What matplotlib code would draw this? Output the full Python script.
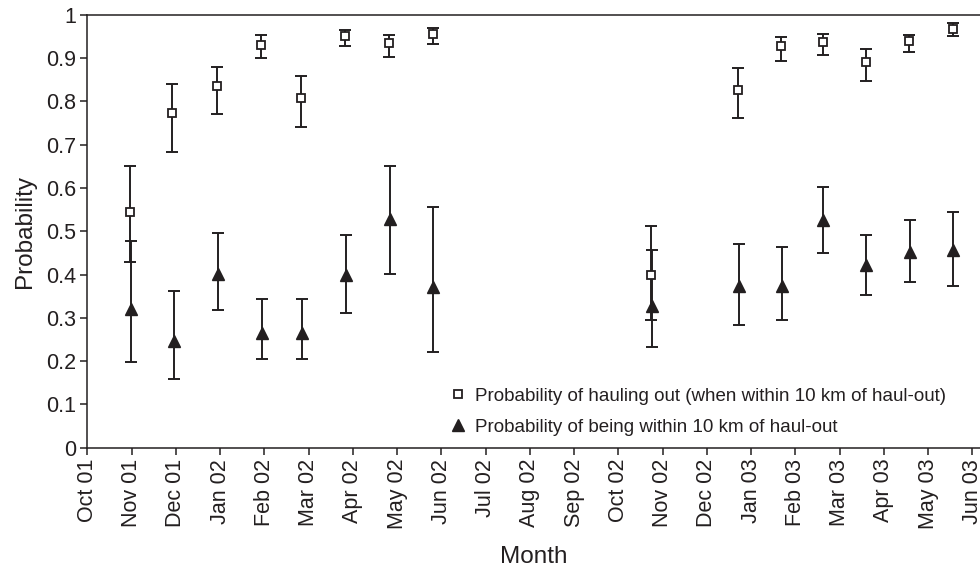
import matplotlib
matplotlib.use("Agg")
import matplotlib.pyplot as plt
import numpy as np

plt.rcParams["font.family"] = ["Liberation Sans", "DejaVu Sans"]

INK = "#231f20"

month_labels = ["Oct 01", "Nov 01", "Dec 01", "Jan 02", "Feb 02", "Mar 02", "Apr 02",
                "May 02", "Jun 02", "Jul 02", "Aug 02", "Sep 02", "Oct 02", "Nov 02",
                "Dec 02", "Jan 03", "Feb 03", "Mar 03", "Apr 03", "May 03", "Jun 03"]

# sampling positions in months since Oct 01
haul_x = [0.97, 1.92, 2.94, 3.92, 4.83, 5.82, 6.81, 7.80,
          12.73, 14.70, 15.68, 16.62, 17.60, 18.57, 19.56]
haul_p = [0.545, 0.774, 0.836, 0.929, 0.808, 0.950, 0.934, 0.955,
          0.400, 0.826, 0.927, 0.938, 0.891, 0.940, 0.967]
haul_lo = [0.429, 0.682, 0.771, 0.899, 0.741, 0.928, 0.903, 0.932,
           0.295, 0.762, 0.893, 0.907, 0.848, 0.914, 0.950]
haul_hi = [0.651, 0.841, 0.879, 0.952, 0.858, 0.965, 0.953, 0.970,
           0.513, 0.876, 0.949, 0.956, 0.921, 0.954, 0.980]

near_x = [0.99, 1.95, 2.96, 3.94, 4.85, 5.84, 6.83, 7.82,
          12.75, 14.72, 15.70, 16.63, 17.60, 18.58, 19.56]
near_p = [0.320, 0.247, 0.401, 0.264, 0.264, 0.398, 0.528, 0.372,
          0.327, 0.373, 0.373, 0.526, 0.422, 0.453, 0.456]
near_lo = [0.197, 0.159, 0.318, 0.204, 0.204, 0.312, 0.401, 0.222,
           0.233, 0.284, 0.294, 0.450, 0.353, 0.383, 0.374]
near_hi = [0.478, 0.363, 0.495, 0.343, 0.343, 0.491, 0.651, 0.557,
           0.457, 0.470, 0.463, 0.601, 0.491, 0.526, 0.544]

fig = plt.figure(figsize=(9.8, 5.72), dpi=100)
ax = fig.add_axes([0.0891, 0.2173, 0.9109, 0.757])


def err(p, lo, hi):
    p = np.asarray(p)
    return [p - np.asarray(lo), np.asarray(hi) - p]


eb_kw = dict(fmt="none", ecolor=INK, elinewidth=1.4, capsize=4.5, capthick=1.4)
ax.errorbar(near_x, near_p, yerr=err(near_p, near_lo, near_hi), **eb_kw)
ax.errorbar(haul_x, haul_p, yerr=err(haul_p, haul_lo, haul_hi), **eb_kw)

tri, = ax.plot(near_x, near_p, ls="none", marker="^", ms=8.5, color=INK,
               label="Probability of being within 10 km of haul-out", zorder=3)
sq, = ax.plot(haul_x, haul_p, ls="none", marker="s", ms=6, mfc="white", mec=INK,
              mew=1.3, label="Probability of hauling out (when within 10 km of haul-out)",
              zorder=4)

ax.set_xlim(0, 20.17)
ax.set_ylim(0, 1)
ax.set_xticks(np.arange(len(month_labels)))
ax.set_xticklabels(month_labels, rotation=90)
ax.set_yticks(np.arange(0, 1.01, 0.1))
ax.set_yticklabels(["0"] + [f"{v:.1f}" for v in np.arange(0.1, 0.95, 0.1)] + ["1"])

for s in ["left", "bottom", "top"]:
    ax.spines[s].set_color(INK)
    ax.spines[s].set_linewidth(1.1)
ax.spines["right"].set_visible(False)
ax.tick_params(direction="out", length=5, width=1.1, color=INK, labelcolor=INK,
               labelsize=15.5, pad=3)

ax.set_xlabel("Month", fontsize=17.5, color=INK, labelpad=12)
ax.set_ylabel("Probability", fontsize=17.5, color=INK, labelpad=7)

ax.legend(handles=[sq, tri], loc="lower right", bbox_to_anchor=(0.965, 0.238),
          bbox_transform=fig.transFigure, frameon=False, fontsize=13.5,
          handlelength=0.9, handletextpad=0.45, labelspacing=0.75,
          borderpad=0, borderaxespad=0, labelcolor=INK)

fig.savefig("out.png", dpi=100)
